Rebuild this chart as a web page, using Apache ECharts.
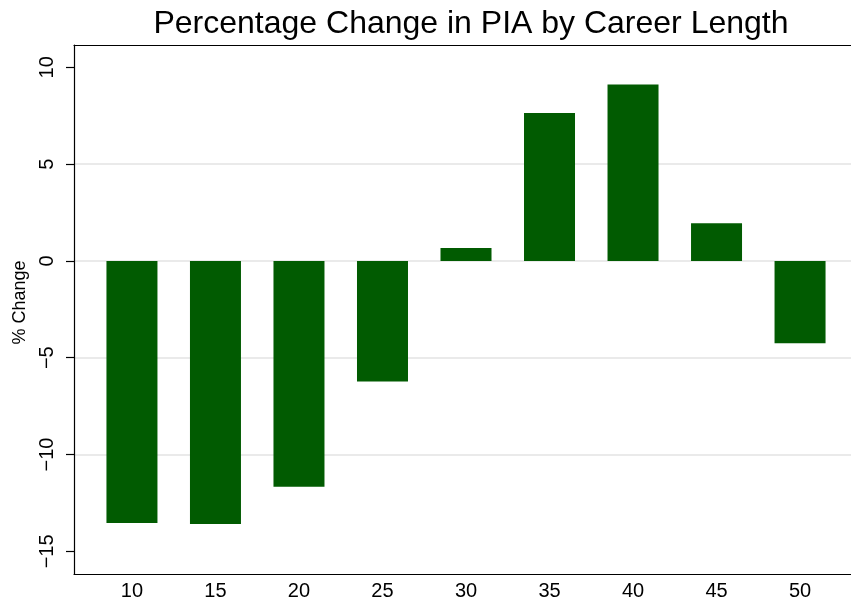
<!DOCTYPE html>
<html>
<head>
<meta charset="utf-8">
<script src="https://cdn.jsdelivr.net/npm/echarts@6/dist/echarts.min.js"></script>
<style>
  html, body { margin: 0; padding: 0; background: #fff; }
  #chart { width: 851px; height: 603px; }
</style>
</head>
<body>
<div id="chart"></div>
<script>
const careerLength = [10, 15, 20, 25, 30, 35, 40, 45, 50];
const pctChange = [-13.53, -13.59, -11.67, -6.23, 0.66, 7.64, 9.11, 1.95, -4.25];
const yTicks = [-15, -10, -5, 0, 5, 10];

const chart = echarts.init(document.getElementById("chart"));
const font = "Liberation Sans, Arial, Helvetica, sans-serif";

const option = {
  backgroundColor: "#fff",
  animation: false,
  title: {
    text: "Percentage Change in PIA by Career Length",
    left: 466,
    textAlign: "center",
    top: 3,
    textStyle: { fontFamily: font, fontSize: 32, fontWeight: "normal", color: "#000" },
  },
  grid: {
    left: 74,
    top: 45,
    width: 784,
    height: 529,
    outerBoundsMode: "none",
    containLabel: false,
  },
  xAxis: [
    {
      type: "value",
      min: 6.53,
      max: 53.47,
      axisLine: { show: true, onZero: false, lineStyle: { color: "#000", width: 1.2 } },
      axisTick: { show: false },
      splitLine: { show: false },
      axisLabel: {
        customValues: careerLength,
        margin: 7,
        color: "#000",
        fontFamily: font,
        fontSize: 20,
      },
    },
    {
      // top frame line only
      type: "value",
      position: "top",
      min: 6.53,
      max: 53.47,
      axisLine: { show: true, onZero: false, lineStyle: { color: "#000", width: 1.2 } },
      axisTick: { show: false },
      axisLabel: { show: false },
      splitLine: { show: false },
    },
  ],
  yAxis: {
    type: "value",
    min: -16.17,
    max: 11.15,
    name: "% Change",
    nameLocation: "middle",
    nameGap: 43,
    nameTextStyle: { fontFamily: font, fontSize: 18, color: "#000", padding: [0, 0, 0, 14] },
    axisLine: { show: true, lineStyle: { color: "#000", width: 1.2 } },
    axisTick: {
      show: true,
      customValues: yTicks,
      length: 8,
      lineStyle: { color: "#000", width: 1.2 },
    },
    axisLabel: {
      customValues: yTicks,
      rotate: 90,
      margin: 17,
      color: "#000",
      fontFamily: font,
      fontSize: 20,
      formatter: function (v) {
        return String(v).replace("-", "\u2212");
      },
    },
    splitLine: {
      show: true,
      showMinLine: false,
      showMaxLine: false,
      lineStyle: { color: "#e3e3e3", width: 1.5 },
    },
  },
  series: [
    {
      type: "bar",
      data: careerLength.map(function (c, i) { return [c, pctChange[i]]; }),
      barWidth: 51,
      itemStyle: { color: "#015b01" },
    },
  ],
};

chart.setOption(option);
</script>
</body>
</html>
